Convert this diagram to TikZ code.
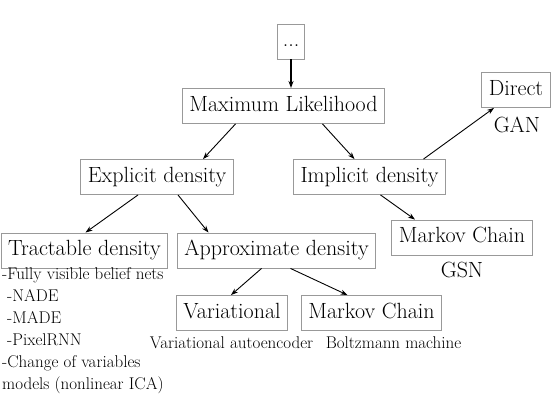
\documentclass[tikz,border=0pt]{standalone}
\usetikzlibrary{arrows.meta}
\tikzset{
  box/.style={draw=black!40, line width=0.9pt, font=\fontsize{22}{26}\selectfont, inner xsep=7pt, inner ysep=7.5pt, text height=15pt, text depth=5pt},
  lab/.style={font=\fontsize{22}{26}\selectfont, inner sep=0pt},
  small/.style={font=\fontsize{17}{22}\selectfont, inner sep=0pt},
  arr/.style={-{Stealth[length=7pt,width=5pt]}, line width=0.9pt},
}
\begin{document}
\begin{tikzpicture}[x=1pt,y=-1pt]
\useasboundingbox (0,0) rectangle (556,396);
\node[box, inner xsep=5pt] (top) at (291,41.5) {...};
\node[box] (ml) at (283.5,106) {Maximum Likelihood};
\node[box] (direct) at (516,90) {Direct};
\node[lab] (gan) at (517,125) {GAN};
\node[box] (exp) at (157,177) {Explicit density};
\node[box] (imp) at (369.5,177) {Implicit density};
\node[box] (tract) at (84.5,250.5) {Tractable density};
\node[box] (approx) at (276.5,250.5) {Approximate density};
\node[box] (mcg) at (462,237.5) {Markov Chain};
\node[lab] (gsn) at (462,269.5) {GSN};
\node[box] (var) at (232,313) {Variational};
\node[box] (mcb) at (371.5,313) {Markov Chain};
\node[small] (vae) at (231.5,343) {Variational autoencoder};
\node[small] (bm) at (393.5,343) {Boltzmann machine};
\node[small, anchor=north west, align=left] (list) at (2,267) {-Fully visible belief nets\\
\hspace*{5pt}-NADE\\
\hspace*{5pt}-MADE\\
\hspace*{5pt}-PixelRNN\\
-Change of variables\\
models (nonlinear ICA)};
\draw[arr, line width=1.6pt] (top.south) -- (top.south |- ml.north);
\draw[arr] ([xshift=-48pt]ml.south) -- ([xshift=46pt]exp.north);
\draw[arr] ([xshift=39pt]ml.south) -- ([xshift=-15pt]imp.north);
\draw[arr] ([xshift=54pt]imp.north) -- ([xshift=-22pt]direct.south);
\draw[arr] ([xshift=-19pt]exp.south) -- ([xshift=1pt]tract.north);
\draw[arr] ([xshift=21pt]exp.south) -- ([xshift=-68pt]approx.north);
\draw[arr] ([xshift=11pt]imp.south) -- ([xshift=-47pt]mcg.north);
\draw[arr] ([xshift=-15pt]approx.south) -- ([xshift=-1pt]var.north);
\draw[arr] ([xshift=14pt]approx.south) -- ([xshift=-24pt]mcb.north);
\end{tikzpicture}
\end{document}
